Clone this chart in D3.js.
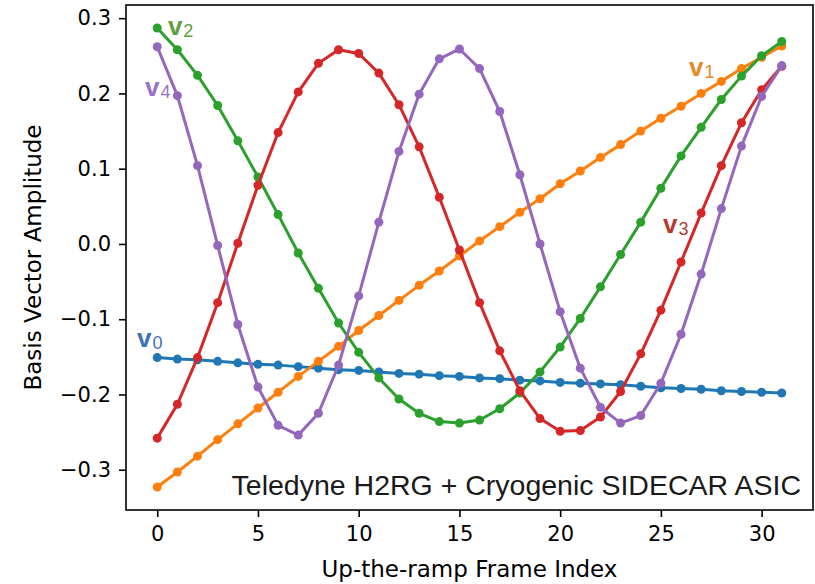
<!DOCTYPE html>
<html>
<head>
<meta charset="utf-8">
<title>Basis vectors</title>
<script src="https://d3js.org/d3.v7.min.js"></script>
<style>
  body { margin: 0; background: #fff; }
  svg { display: block; }
  .tick text { font-family: "DejaVu Sans", sans-serif; font-size: 21px; fill: #000; }
  .axislabel { font-family: "DejaVu Sans", sans-serif; font-size: 23px; }
</style>
</head>
<body>
<svg id="chart" width="815" height="584"></svg>
<script>
// frame index 0..31
var frames = d3.range(32);

var v0 = [-0.151,-0.153,-0.154,-0.156,-0.158,-0.160,-0.161,-0.163,-0.165,-0.167,-0.168,-0.170,-0.172,-0.173,-0.175,-0.176,
          -0.178,-0.179,-0.181,-0.182,-0.184,-0.185,-0.186,-0.187,-0.189,-0.191,-0.192,-0.193,-0.195,-0.196,-0.197,-0.198];
var v1 = [-0.323,-0.303,-0.282,-0.260,-0.239,-0.218,-0.197,-0.176,-0.156,-0.136,-0.115,-0.095,-0.075,-0.055,-0.036,-0.016,
          0.004,0.023,0.042,0.060,0.080,0.097,0.115,0.132,0.150,0.167,0.183,0.200,0.216,0.233,0.248,0.263];
var v2 = [0.287,0.258,0.224,0.184,0.137,0.089,0.039,-0.012,-0.059,-0.105,-0.144,-0.178,-0.206,-0.225,-0.236,-0.238,
          -0.234,-0.219,-0.198,-0.170,-0.137,-0.099,-0.057,-0.014,0.029,0.074,0.117,0.155,0.192,0.223,0.250,0.269];
var v3 = [-0.258,-0.213,-0.151,-0.078,0.001,0.078,0.148,0.202,0.240,0.258,0.253,0.227,0.185,0.129,0.062,-0.008,
          -0.078,-0.142,-0.195,-0.232,-0.249,-0.248,-0.230,-0.196,-0.146,-0.088,-0.024,0.041,0.104,0.161,0.205,0.236];
var v4 = [0.262,0.197,0.104,-0.002,-0.107,-0.190,-0.241,-0.254,-0.225,-0.161,-0.069,0.029,0.123,0.199,0.246,0.259,
          0.233,0.176,0.092,0.000,-0.090,-0.165,-0.217,-0.238,-0.228,-0.185,-0.120,-0.040,0.047,0.130,0.196,0.237];

var series = [v0, v1, v2, v3, v4];
var lineColors = ["#1f77b4", "#ff7f0e", "#2ca02c", "#d62728", "#9467bd"];
var labelColors = ["#3d72b6", "#e4892c", "#5c9f3e", "#b53a30", "#9872c6"];
// label anchor in data units (x = frame, y = amplitude)
var labelX = [-1.0, 26.4, 0.53, 25.1, -0.61];
var labelY = [-0.137, 0.223, 0.278, 0.015, 0.197];

var xTicks = [0, 5, 10, 15, 20, 25, 30];
var yTicks = [-0.3, -0.2, -0.1, 0.0, 0.1, 0.2, 0.3];

var margin = {top: 5, right: 2, bottom: 74, left: 126};
var width = 815 - margin.left - margin.right;
var height = 584 - margin.top - margin.bottom;

var svg = d3.select('#chart');
var g = svg.append('g').attr('transform', 'translate(' + margin.left + ',' + margin.top + ')');

var x = d3.scaleLinear().domain([-1.55, 32.55]).range([0, width]);
var y = d3.scaleLinear().domain([-0.3535, 0.3175]).range([height, 0]);

var fmt = function(d) { return d3.format('.1f')(d).replace('-', '\u2212'); };

var xAxis = g.append('g')
  .attr('transform', 'translate(0,' + height + ')')
  .call(d3.axisBottom(x).tickValues(xTicks).tickSize(7).tickPadding(6));
var yAxis = g.append('g')
  .call(d3.axisLeft(y).tickValues(yTicks).tickFormat(fmt).tickSize(7).tickPadding(8));
[xAxis, yAxis].forEach(function(a) {
  a.select('.domain').remove();
  a.selectAll('.tick line').attr('stroke', '#000').attr('stroke-width', 1.6);
});
xAxis.selectAll('.tick text').attr('dy', '0.85em');

var line = d3.line()
  .x(function(d, i) { return x(frames[i]); })
  .y(function(d) { return y(d); });

series.forEach(function(s, k) {
  g.append('path')
    .datum(s)
    .attr('d', line)
    .attr('fill', 'none')
    .attr('stroke', lineColors[k])
    .attr('stroke-width', 3)
    .attr('stroke-linejoin', 'round');
  g.selectAll('circle.s' + k)
    .data(s)
    .enter()
    .append('circle')
    .attr('class', 's' + k)
    .attr('cx', function(d, i) { return x(frames[i]); })
    .attr('cy', function(d) { return y(d); })
    .attr('r', 4.5)
    .attr('fill', lineColors[k]);
});

// v labels
series.forEach(function(s, k) {
  var t = g.append('text')
    .attr('x', x(labelX[k]))
    .attr('y', y(labelY[k]))
    .attr('fill', labelColors[k])
    .style('font-family', '"Liberation Sans", Arial, sans-serif');
  t.append('tspan').text('v').style('font-weight', 'bold').style('font-size', '26px');
  t.append('tspan').text(String(k)).style('font-size', '18px').attr('dx', 1).attr('dy', 2);
});

// annotation
g.append('text')
  .attr('x', width - 12)
  .attr('y', 490)
  .attr('text-anchor', 'end')
  .style('font-family', '"Liberation Sans", Arial, sans-serif')
  .style('font-size', '28.5px')
  .style('fill', '#1a1a1a')
  .text('Teledyne H2RG + Cryogenic SIDECAR ASIC');

// frame
g.append('rect')
  .attr('width', width)
  .attr('height', height)
  .attr('fill', 'none')
  .attr('stroke', '#000')
  .attr('stroke-width', 1.6);

svg.append('text')
  .attr('class', 'axislabel')
  .attr('x', margin.left + width / 2)
  .attr('y', 577)
  .attr('text-anchor', 'middle')
  .text('Up-the-ramp Frame Index');

svg.append('text')
  .attr('class', 'axislabel')
  .attr('transform', 'translate(41,' + (margin.top + height / 2) + ') rotate(-90)')
  .attr('text-anchor', 'middle')
  .text('Basis Vector Amplitude');
</script>
</body>
</html>
